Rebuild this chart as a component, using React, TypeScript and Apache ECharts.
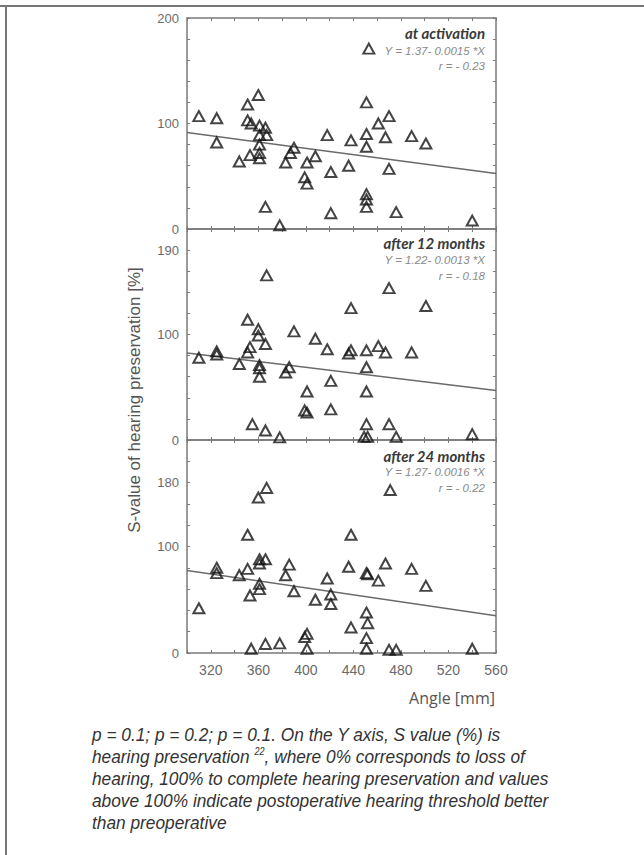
import React, { useEffect, useRef } from "react";
import * as echarts from "echarts";

// Angle [mm] vs S-value [%] — three panels
const activationPoints: [number, number][] = [
  [310, 107], [325, 105], [325, 82], [344, 64], [351, 118], [351, 103], [354, 100], [353, 70],
  [360, 127], [361, 98], [361, 89], [361, 80], [361, 72], [361, 67], [366, 96], [367, 89],
  [366, 21], [378, 3.5], [383, 63], [387, 72], [390, 77], [401, 63], [399, 49], [401, 43],
  [408, 69], [418, 89], [421, 54], [421, 15], [436, 60], [438, 84], [451, 120], [451, 90],
  [451, 78], [451, 33], [451, 28], [451, 21], [453, 171], [461, 100], [467, 87], [470, 107],
  [470, 57], [476, 16], [489, 88], [501, 81], [540, 8],
];
const months12Points: [number, number][] = [
  [310, 78], [325, 84], [325, 81], [344, 72], [351, 114], [351, 83], [353, 88], [355, 15],
  [360, 105], [360, 99], [361, 71], [361, 68], [361, 60], [366, 91], [367, 156], [366, 9],
  [378, 2.5], [383, 64], [386, 69], [390, 103], [401, 46], [399, 28], [401, 26], [408, 96],
  [418, 86], [421, 56], [421, 29], [436, 82], [438, 85], [438, 125], [451, 85], [451, 69],
  [451, 46], [451, 15], [449, 3], [452, 3], [461, 89], [467, 83], [470, 144], [470, 15],
  [476, 3], [489, 83], [501, 127], [540, 5.5],
];
const months24Points: [number, number][] = [
  [310, 42], [325, 80], [325, 75], [344, 73], [351, 111], [351, 79], [353, 54], [354, 4],
  [360, 146], [361, 88], [361, 84], [361, 65], [361, 60], [366, 88], [367, 155], [366, 8.5],
  [378, 9], [383, 73], [386, 83], [390, 58], [399, 15], [401, 18], [401, 4], [408, 50],
  [418, 70], [421, 55], [421, 46], [436, 81], [438, 111], [438, 24], [451, 75], [452, 74],
  [451, 38], [452, 28], [451, 14], [451, 4], [461, 68], [467, 84], [471, 153], [470, 3],
  [476, 3], [489, 79], [501, 63], [540, 4],
];

// regression line end points
const activationFit: [number, number][] = [[300, 91.5], [560, 52.5]];
const months12Fit: [number, number][] = [[300, 82.5], [560, 47]];
const months24Fit: [number, number][] = [[300, 77.5], [560, 35]];

// y tick labels as printed in each panel (value position -> text)
const activationYLabels: [number, string][] = [[0, "0"], [100, "100"], [200, "200"]];
const months12YLabels: [number, string][] = [[0, "0"], [100, "100"], [180, "190"]];
const months24YLabels: [number, string][] = [[0, "0"], [100, "100"], [160, "180"]];

const panelTitles = ["at activation", "after 12 months", "after 24 months"];
const panelEquations = ["Y = 1.37- 0.0015 *X", "Y = 1.22- 0.0013 *X", "Y = 1.27- 0.0016 *X"];
const panelR = ["r = - 0.23", "r = - 0.18", "r = - 0.22"];

const xMin = 300;
const xMax = 560;
const xStep = 20;
const yMin = 0;
const yMax = 200;
const yStep = 20;

export default function App() {
  const ref = useRef<HTMLDivElement>(null);

  useEffect(() => {
    document.body.style.margin = "0";
    if (!ref.current) return;
    const chart = echarts.init(ref.current, null, { renderer: "svg" });

    const axisColor = "#7a7a7a";
    const tickFont = { fontFamily: "Liberation Sans, Arial, sans-serif", fontSize: 13, color: "#6a6a6a" };

    const grids = [
      { left: 187, top: 18, width: 309, height: 211 },
      { left: 187, top: 229, width: 309, height: 211 },
      { left: 187, top: 440, width: 309, height: 213 },
    ];
    const pointSets = [activationPoints, months12Points, months24Points];
    const fits = [activationFit, months12Fit, months24Fit];
    const yLabelSets = [activationYLabels, months12YLabels, months24YLabels];

    const xAxes: any[] = [];
    const yAxes: any[] = [];
    const series: any[] = [];

    grids.forEach((_, i) => {
      const base = {
        type: "value",
        gridIndex: i,
        min: xMin,
        max: xMax,
        interval: xStep,
        splitLine: { show: false },
        axisLine: { show: true, onZero: false, lineStyle: { color: axisColor, width: 1.5 } },
        axisTick: { show: true, inside: true, length: 3, lineStyle: { color: axisColor } },
      };
      xAxes.push({
        ...base,
        position: "bottom",
        axisLabel: {
          show: i === 2,
          margin: 10,
          ...tickFont,
          fontSize: 14,
          formatter: (v: number) => (v % 40 === 0 ? String(v) : ""),
        },
      });
      xAxes.push({ ...base, position: "top", axisLabel: { show: false } });

      const labels = yLabelSets[i];
      const yBase = {
        type: "value",
        gridIndex: i,
        min: yMin,
        max: yMax,
        interval: yStep,
        splitLine: { show: false },
        axisLine: { show: true, onZero: false, lineStyle: { color: axisColor, width: 1.5 } },
        axisTick: { show: true, inside: true, length: 3, lineStyle: { color: axisColor } },
      };
      yAxes.push({
        ...yBase,
        position: "left",
        axisLabel: {
          show: true,
          margin: 8,
          ...tickFont,
          showMinLabel: true,
          showMaxLabel: true,
          formatter: (v: number) => {
            const f = labels.find((l) => l[0] === v);
            return f ? f[1] : "";
          },
        },
      });
      yAxes.push({ ...yBase, position: "right", axisLabel: { show: false } });

      series.push({
        type: "line",
        xAxisIndex: i * 2,
        yAxisIndex: i * 2,
        data: fits[i],
        symbol: "none",
        lineStyle: { color: "#6a6a6a", width: 1.5 },
        z: 1,
      });
      series.push({
        type: "scatter",
        xAxisIndex: i * 2,
        yAxisIndex: i * 2,
        data: pointSets[i],
        symbol: "triangle",
        symbolSize: [11, 10],
        itemStyle: { color: "rgba(255,255,255,0)", borderColor: "#151515", borderWidth: 2 },
        z: 3,
      });
    });

    const annY = [
      [33, 51, 66],
      [243, 260, 276],
      [456, 472, 488],
    ];
    const graphics: any[] = [];
    annY.forEach((ys, i) => {
      graphics.push({
        type: "text",
        x: 485,
        y: ys[0],
        style: {
          text: panelTitles[i],
          font: "italic bold 15px Lato, 'Liberation Sans', sans-serif",
          fill: "#3a3a3a",
          align: "right",
          verticalAlign: "middle",
        },
      });
      graphics.push({
        type: "text",
        x: 485,
        y: ys[1],
        style: {
          text: panelEquations[i],
          font: "italic 11.5px 'Liberation Sans', sans-serif",
          fill: "#8a8a8a",
          align: "right",
          verticalAlign: "middle",
        },
      });
      graphics.push({
        type: "text",
        x: 485,
        y: ys[2],
        style: {
          text: panelR[i],
          font: "italic 11.5px 'Liberation Sans', sans-serif",
          fill: "#8a8a8a",
          align: "right",
          verticalAlign: "middle",
        },
      });
    });

    // figure frame (top and left)
    graphics.push({ type: "line", shape: { x1: 0, y1: 6, x2: 644, y2: 6 }, style: { stroke: "#777", lineWidth: 2 } });
    graphics.push({ type: "line", shape: { x1: 6, y1: 6, x2: 6, y2: 855 }, style: { stroke: "#777", lineWidth: 2 } });

    // y axis title
    graphics.push({
      type: "text",
      x: 134,
      y: 400,
      rotation: Math.PI / 2,
      style: {
        text: "S-value of hearing preservation [%]",
        font: "17px 'Liberation Sans', Arial, sans-serif",
        fill: "#555",
        align: "center",
        verticalAlign: "middle",
      },
    });
    // x axis title
    graphics.push({
      type: "text",
      x: 452,
      y: 698,
      style: {
        text: "Angle [mm]",
        font: "16px 'Open Sans', sans-serif",
        fill: "#555",
        align: "center",
        verticalAlign: "middle",
      },
    });

    // caption
    const capFont = "'Liberation Sans', Arial, sans-serif";
    graphics.push({
      type: "text",
      x: 92,
      y: 724,
      scaleX: 0.91,
      style: {
        text:
          "{t|p = 0.1; p = 0.2; p = 0.1. On the Y axis, S value (%) is}\n" +
          "{t|hearing preservation }{s|22}{t|, where 0% corresponds to loss of}\n" +
          "{t|hearing, 100% to complete hearing preservation and values}\n" +
          "{t|above 100% indicate postoperative hearing threshold better}\n" +
          "{t|than preoperative}",
        rich: {
          t: { fontFamily: capFont, fontStyle: "italic", fontSize: 19, fill: "#333", lineHeight: 22 },
          s: { fontFamily: capFont, fontStyle: "italic", fontSize: 10, fill: "#333", lineHeight: 22, verticalAlign: "top", padding: [0, 0, 6, 0] },
        },
        align: "left",
        verticalAlign: "top",
      },
    });

    chart.setOption({
      animation: false,
      backgroundColor: "#fff",
      grid: grids,
      xAxis: xAxes,
      yAxis: yAxes,
      series,
      graphic: graphics,
    });

    return () => chart.dispose();
  }, []);

  return <div ref={ref} style={{ width: 644, height: 855 }} />;
}
